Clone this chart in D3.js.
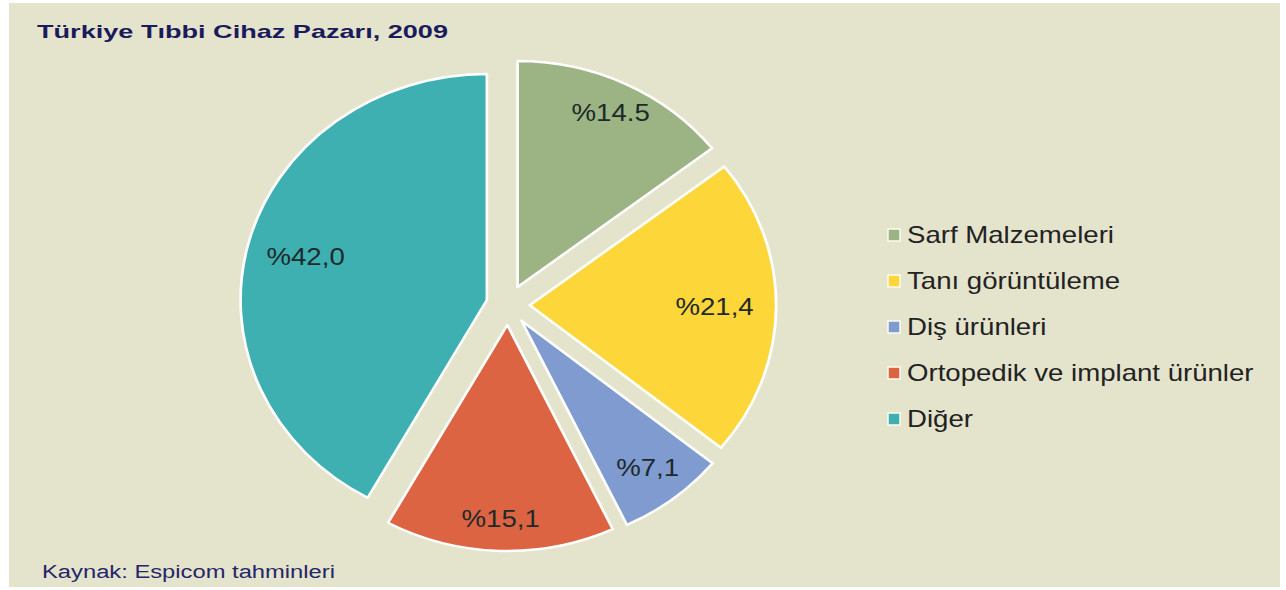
<!DOCTYPE html>
<html>
<head>
<meta charset="utf-8">
<style>
body { margin: 0; background: #fff; }
svg { display: block; font-family: "Liberation Sans", Arial, sans-serif; }
.title { font-weight: bold; font-size: 19px; fill: #1b1b5c; }
.source { font-size: 18px; fill: #26266a; }
.lbl { font-size: 23px; fill: #1d2a2a; text-anchor: middle; dominant-baseline: central; }
.legend text { font-size: 23px; fill: #222; dominant-baseline: central; }
</style>
</head>
<body>
<svg width="1286" height="590"></svg>
<script src="https://cdn.jsdelivr.net/npm/d3@7"></script>
<script>

var categories = ["Sarf Malzemeleri", "Tanı görüntüleme", "Diş ürünleri", "Ortopedik ve implant ürünler", "Diğer"];
var values = [14.5, 21.4, 7.1, 15.1, 42.0];
var labels = ["%14.5", "%21,4", "%7,1", "%15,1", "%42,0"];
var colors = ["#9cb384", "#fdd63a", "#7f9bd0", "#dd6443", "#3eb0b1"];
// how far out (fraction of radius) each value label sits
var labelRadius = [0.86, 0.75, 0.83, 0.86, 0.76];

var svg = d3.select("svg");

// the original image is stretched sideways, text too
var stretch = 1.2;

// panel
svg.append("rect")
  .attr("x", 9).attr("y", 3)
  .attr("width", 1271).attr("height", 584)
  .attr("fill", "#e4e3cc");

svg.append("text")
  .attr("class", "title")
  .attr("x", 37).attr("y", 38)
  .attr("textLength", 411)
  .attr("lengthAdjust", "spacingAndGlyphs")
  .text("Türkiye Tıbbi Cihaz Pazarı, 2009");

svg.append("text")
  .attr("class", "source")
  .attr("x", 42).attr("y", 578)
  .attr("textLength", 293)
  .attr("lengthAdjust", "spacingAndGlyphs")
  .text("Kaynak: Espicom tahminleri");

var cx = 508, cy = 305, r = 226, explode = 20, sx = 1.09;

var pie = d3.pie().sort(null).value(function(d) { return d; });
var arcs = pie(values);

var arc = d3.arc().innerRadius(0).outerRadius(r);

var g = svg.append("g")
  .attr("transform", "translate(" + cx + "," + cy + ") scale(" + sx + ",1)");

function mid(d) { return (d.startAngle + d.endAngle) / 2; }

g.selectAll("path")
  .data(arcs)
  .enter().append("path")
  .attr("d", arc)
  .attr("fill", function(d, i) { return colors[i]; })
  .attr("stroke", "#fff")
  .attr("stroke-width", 2.5)
  .attr("stroke-linejoin", "round")
  .attr("transform", function(d) {
    var a = mid(d);
    return "translate(" + (Math.sin(a) * explode) + "," + (-Math.cos(a) * explode) + ")";
  });

// labels placed outside the scaled group
svg.selectAll(".lbl")
  .data(arcs)
  .enter().append("text")
  .attr("class", "lbl")
  .attr("transform", function(d, i) {
    var a = mid(d), rr = explode + r * labelRadius[i];
    var x = cx + sx * Math.sin(a) * rr, y = cy - Math.cos(a) * rr;
    return "translate(" + x + "," + y + ") scale(" + stretch + ",1)";
  })
  .text(function(d, i) { return labels[i]; });

// legend
var y = d3.scaleBand().domain(categories).range([212, 442]);

var leg = svg.append("g").attr("class", "legend")
  .selectAll("g")
  .data(categories)
  .enter().append("g")
  .attr("transform", function(d) { return "translate(888," + (y(d) + y.bandwidth() / 2) + ")"; });

leg.append("rect")
  .attr("x", 0).attr("y", -6)
  .attr("width", 12).attr("height", 12)
  .attr("fill", function(d, i) { return colors[i]; })
  .attr("stroke", "#fbfbf0")
  .attr("stroke-width", 1.5);

leg.append("text")
  .attr("transform", "translate(19,0) scale(" + stretch + ",1)")
  .text(function(d) { return d; });

</script>
</body>
</html>
